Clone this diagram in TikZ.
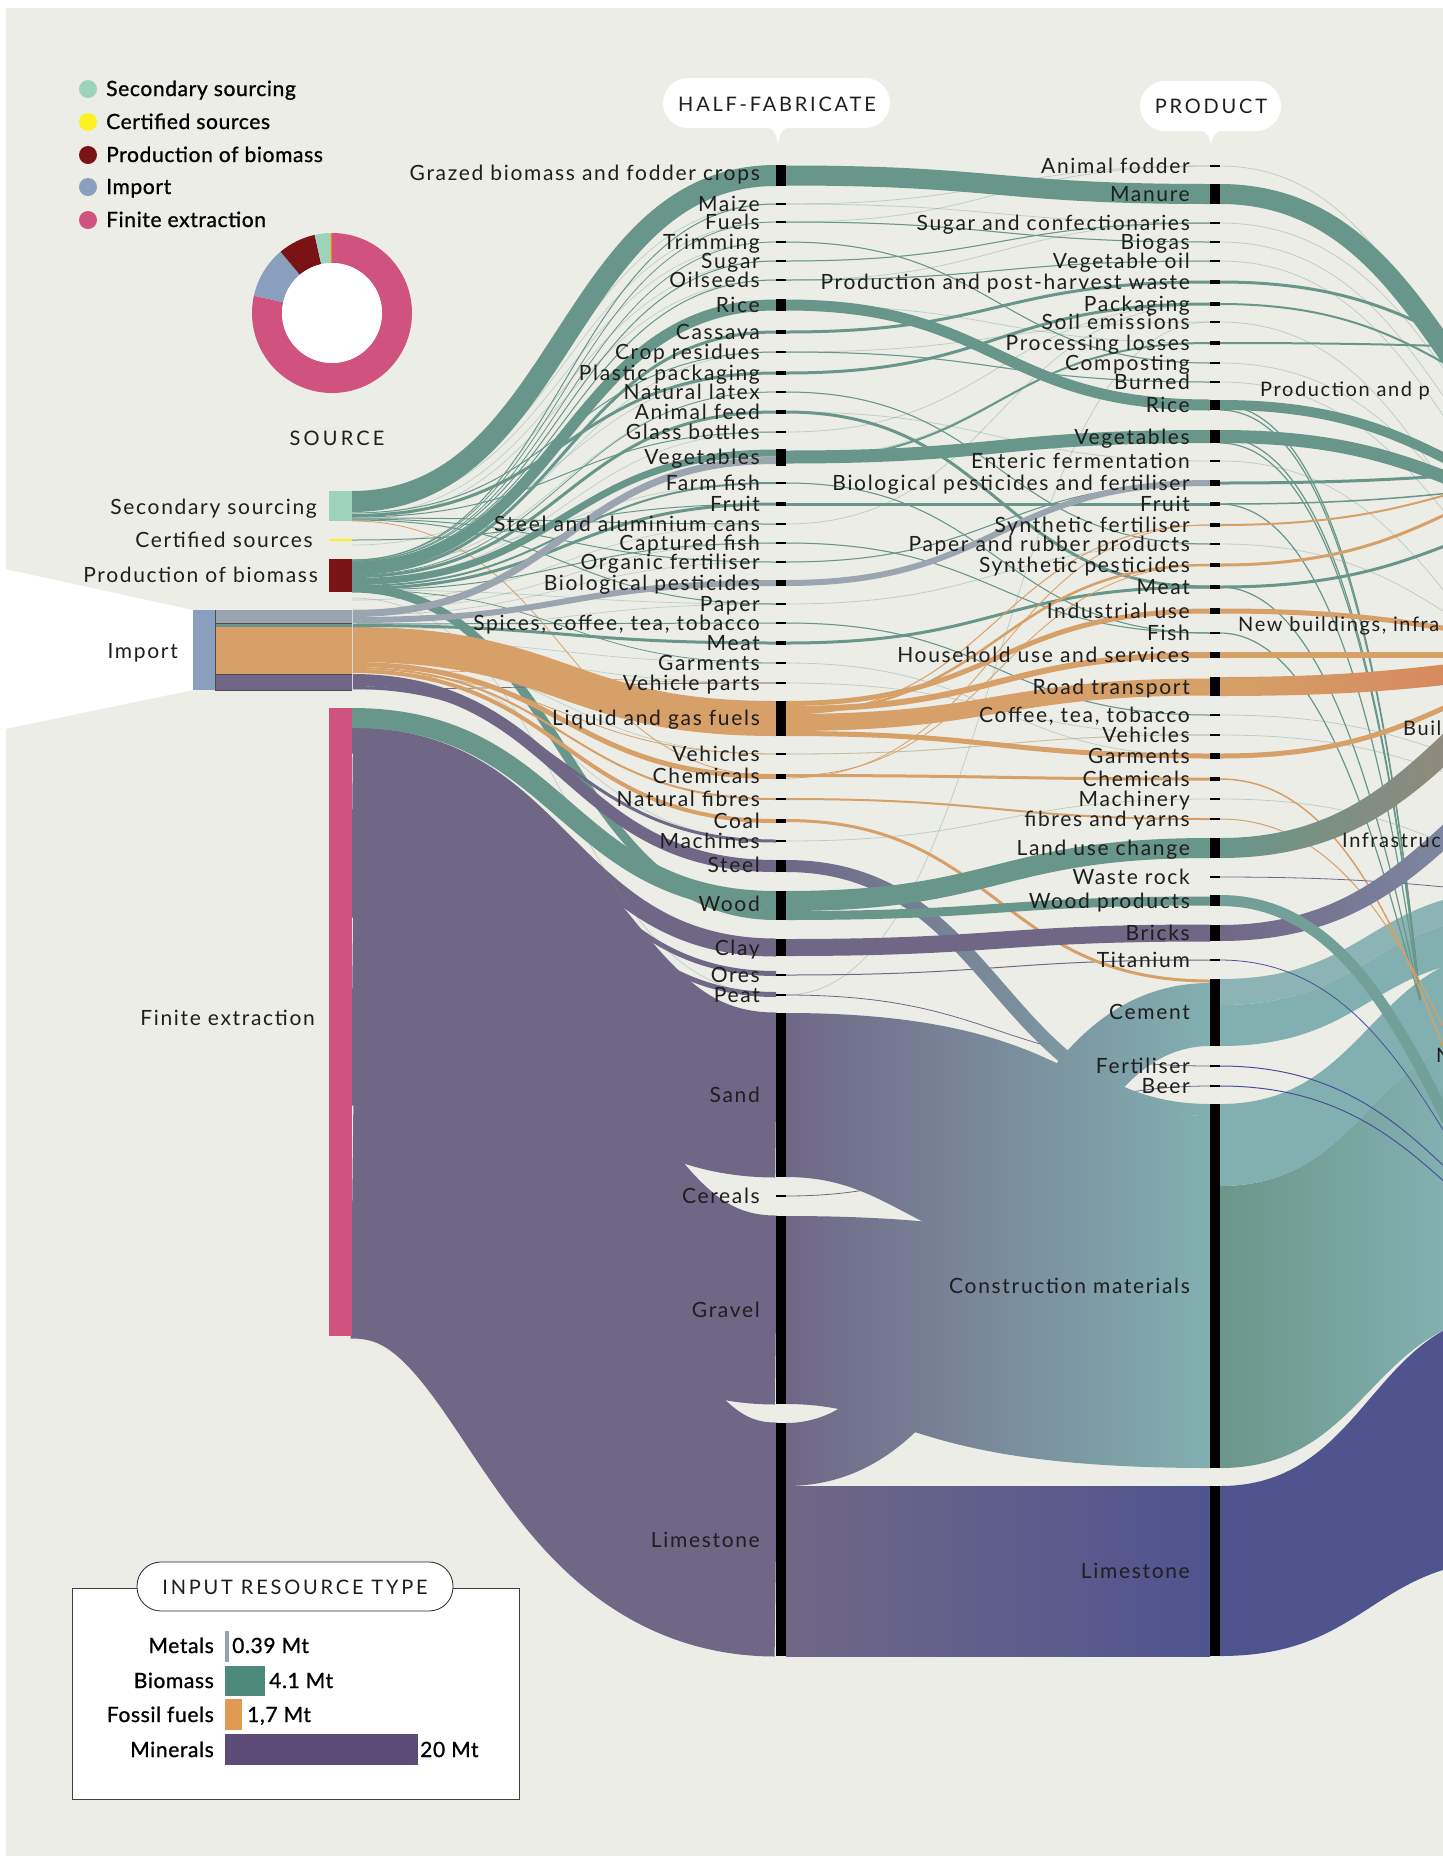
\documentclass[tikz,border=0pt]{standalone}
\usepackage{fontspec}
\setmainfont{Lato}
\newfontfamily\lbl[LetterSpace=8]{Lato}
\newfontfamily\hdr[LetterSpace=14]{Lato}
\newfontfamily\hdrS[LetterSpace=16]{Lato}
\newfontfamily\legf[LetterSpace=3,FakeBold=1]{Lato}
\definecolor{bg}{HTML}{ECEDE7}
\definecolor{gr}{HTML}{68968A}
\definecolor{grn2}{HTML}{6C968A}
\definecolor{pu}{HTML}{706787}
\definecolor{orn}{HTML}{D6A068}
\definecolor{gy}{HTML}{9BA5AF}
\definecolor{tl}{HTML}{82B0B0}
\definecolor{tl2}{HTML}{8CB4B4}
\definecolor{lb}{HTML}{4F548F}
\definecolor{pk}{HTML}{D0527E}
\definecolor{mint}{HTML}{9DD3BA}
\definecolor{dred}{HTML}{7A1315}
\definecolor{imp}{HTML}{8A9EBD}
\definecolor{yel}{HTML}{FFF01F}
\definecolor{bl}{HTML}{4A4F9C}
\definecolor{txt}{HTML}{1E1E1E}
\definecolor{cmR}{HTML}{8AB9BD}
\definecolor{rtR}{HTML}{D67053}
\definecolor{luR}{HTML}{BB7C6C}
\definecolor{brR}{HTML}{8CAABD}
\definecolor{lgMe}{HTML}{94A3B3}
\definecolor{lgBi}{HTML}{4E8A7C}
\definecolor{lgFo}{HTML}{E09A52}
\definecolor{lgMi}{HTML}{5C4B76}
% stroke link: x1, y1(centre), x2, y2(centre), width, colour
\newcommand\sstrand[6]{\draw[line width=#5,#6] (#1,#2) .. controls ({(#1+#3)/2},#2) and ({(#1+#3)/2},#4) .. (#3,#4);}
% filled link with constant perpendicular width (for gradients)
\newcommand\lk[6]{\path[#6] (#1,{#2-#5/2}) .. controls ({(#1+#3)/2+sign(#4-#2)*#5/2},{#2-#5/2}) and ({(#1+#3)/2+sign(#4-#2)*#5/2},{#4-#5/2}) .. (#3,{#4-#5/2}) -- (#3,{#4+#5/2}) .. controls ({(#1+#3)/2-sign(#4-#2)*#5/2},{#4+#5/2}) and ({(#1+#3)/2-sign(#4-#2)*#5/2},{#2+#5/2}) .. (#1,{#2+#5/2}) -- cycle;}
% filled band given top/bottom at both ends
\newcommand\sband[7]{\path[#7] (#1,#2) .. controls ({(#1+#4)/2},#2) and ({(#1+#4)/2},#5) .. (#4,#5) -- (#4,#6) .. controls ({(#1+#4)/2},#6) and ({(#1+#4)/2},#3) .. (#1,#3) -- cycle;}
\newcommand\HFbar[2]{\fill[black] (776,#1) rectangle (786,#2);}
\newcommand\HFtick[1]{\fill[black] (776,#1-1) rectangle (786,#1+1);}
\newcommand\PRbar[2]{\fill[black] (1210,#1) rectangle (1220,#2);}
\newcommand\PRtick[1]{\fill[black] (1210,#1-1) rectangle (1220,#1+1);}
\newcommand\HFlab[2]{\node[lab,anchor=base east] at (760,#1+7) {#2};}
\newcommand\PRlab[2]{\node[lab,anchor=base east] at (1190,#1+7) {#2};}
\newcommand\dseg[3]{\fill[#3] (#1:80) arc[start angle=#1,end angle=#2,radius=80] -- (#2:50) arc[start angle=#2,end angle=#1,radius=50] -- cycle;}
\begin{document}
\begin{tikzpicture}[x=1pt,y=-1pt,
  lab/.style={font=\lbl\fontsize{21}{21}\selectfont,text=txt,inner sep=0pt},
  wlab/.style={font=\lbl\fontsize{20}{20}\selectfont,text=txt,inner sep=0pt},
  leg/.style={font=\legf\fontsize{21}{21}\selectfont,text=black,inner sep=0pt},
  hd/.style={font=\hdr\fontsize{20}{20}\selectfont,text=txt,inner sep=0pt},
  fnt/.style={gr,opacity=0.35},
  fno/.style={orn,opacity=0.4}]
\useasboundingbox (0,0) rectangle (1443,1856);
\clip (0,0) rectangle (1443,1856);
\fill[white] (0,0) rectangle (1443,1856);
\fill[bg] (6,8) rectangle (1443,1856);
\fill[white] (0,568) -- (193,610) -- (193,690) -- (0,730) -- cycle;

% ---------- legend top-left
\fill[mint] (88,89) circle[radius=9];
\fill[yel] (88,122) circle[radius=9];
\fill[dred] (88,155) circle[radius=9];
\fill[imp] (88,187) circle[radius=9];
\fill[pk] (88,220) circle[radius=9];
\node[leg,anchor=base west] (l1) at (106,96) {Secondary sourcing};
\node[leg,anchor=base west] (l2) at (106,129) {Certified sources};
\node[leg,anchor=base west] (l3) at (106,162) {Production of biomass};
\node[leg,anchor=base west] (l4) at (106,194) {Import};
\node[leg,anchor=base west] (l5) at (106,227) {Finite extraction};

% ---------- donut
\begin{scope}[shift={(332,313)},y=1pt]
\dseg{90}{-192.5}{pk}
\dseg{167.5}{130}{imp}
\dseg{130}{102.5}{dred}
\dseg{102.5}{91}{mint}
\dseg{91}{90}{orange}
\fill[white] (0,0) circle[radius=50];
\end{scope}
\node[font=\hdrS\fontsize{20}{20}\selectfont,text=txt,inner sep=0pt] (src) at (337,438) {SOURCE};

% ---------- STAGE A : source -> half-fabricate
\sstrand{352}{736.5}{776}{947.5}{18}{pu}
\sstrand{352}{747}{776}{973.5}{5}{pu}
\sstrand{352}{751}{776}{994.5}{5}{pu}
\sstrand{352}{835}{776}{1095}{165}{pu}
\sstrand{352}{1011}{776}{1310}{189}{pu}
\sstrand{352}{1221.5}{776}{1539.5}{234}{pu}
\sstrand{352}{718}{776}{901}{20}{gr}
\foreach \a/\b in {500/204,505/222,508/242,515/261,520/280,566/352,570/392,580/432,600/524,610/543,615/562,630/604,640/663,650/683,655/754,660/841,545/373,560/483,590/604,598/995}
  {\sstrand{352}{\a}{776}{\b}{0.7}{fnt}}
\sstrand{352}{501.5}{776}{175.5}{21}{gr}
\sstrand{352}{513}{776}{352}{1}{gr}
\sstrand{352}{515.5}{776}{373}{3}{gr}
\sstrand{352}{517}{776}{432}{1}{gr}
\sstrand{352}{518}{776}{524}{1}{gr}
\sstrand{352}{519}{776}{562}{1}{gr}
\sstrand{352}{520}{776}{604}{1}{gr}
\sstrand{352}{521}{776}{776}{0.8}{orn}
\sstrand{352}{540}{776}{504}{1}{gr}
\sstrand{352}{560}{776}{204}{1}{gr}
\sstrand{352}{560}{776}{222}{0.8}{gr}
\sstrand{352}{561}{776}{242}{0.8}{gr}
\sstrand{352}{561}{776}{261}{1}{gr}
\sstrand{352}{562}{776}{280}{1}{gr}
\sstrand{352}{567}{776}{305}{11}{gr}
\sstrand{352}{573.5}{776}{332}{3}{gr}
\sstrand{352}{575}{776}{392}{0.8}{gr}
\sstrand{352}{576.5}{776}{412}{3}{gr}
\sstrand{352}{581.5}{776}{453}{7}{gr}
\sstrand{352}{586}{776}{483}{2}{gr}
\sstrand{352}{588.5}{776}{504}{3}{gr}
\sstrand{352}{590}{776}{543}{1}{gr}
\sstrand{352}{590}{776}{663}{0.8}{gr}
\sstrand{352}{588}{776}{915.5}{9}{gr}
\sstrand{352}{680}{776}{866}{12}{pu}
\sstrand{352}{687.5}{776}{841}{3}{pu}
\sstrand{352}{689}{776}{683}{0.7}{pu}
\sstrand{352}{644.5}{776}{718.5}{35}{orn}
\sstrand{352}{664.5}{776}{776.5}{5}{orn}
\sstrand{352}{668}{776}{799}{2}{orn}
\sstrand{352}{671}{776}{821}{4}{orn}
\sstrand{352}{672}{776}{754}{0.8}{orn}
\sstrand{352}{670}{776}{683}{0.6}{orn}
\sstrand{352}{624}{776}{623}{1}{gr}
\sstrand{352}{625.5}{776}{643}{3}{gr}
\sstrand{352}{613.5}{776}{460.5}{7}{gy}
\sstrand{352}{620}{776}{583}{6}{gy}

% ---------- source bars
\fill[mint] (329,491) rectangle (352,521);
\fill[yel] (329,539) rectangle (352,541);
\fill[dred] (329,559) rectangle (352,592);
\fill[pk] (329,708) rectangle (352,1336);
\fill[imp] (193,610) rectangle (215,690);
\fill[gy] (215,610) rectangle (352,623);
\fill[gr] (215,623) rectangle (352,627);
\fill[orn] (215,627) rectangle (352,674);
\fill[pu] (215,674) rectangle (352,690);
\draw[black!70,line width=0.6] (215,610) -- (215,690) (215,623) -- (352,623) (215,674) -- (352,674) (215,690) -- (352,690);
\draw[white!70!gray,line width=0.5] (352,610) -- (352,690);
\node[lab,anchor=base east] (s1) at (317,514) {Secondary sourcing};
\node[lab,anchor=base east] (s2) at (313,547) {Certified sources};
\node[lab,anchor=base east] (s3) at (318,582) {Production of biomass};
\node[lab,anchor=base east] (s4) at (178,658) {Import};
\node[lab,anchor=base east] (s5) at (315,1025) {Finite extraction};

% ---------- STAGE B : half-fabricate -> product
\foreach \a/\b in {204/166,204/223,222/242,242/363,261/223,280/261,332/282,352/382,352/322,373/304,392/544,432/304,458/343,483/633,524/304,543/633,562/483,604/544,623/715,663/756,683/735,754/735,841/799,995/322,305/343,412/461,222/166,280/223}
  {\sstrand{786}{\a}{1210}{\b}{0.8}{fnt}}
\sstrand{786}{242}{1210}{363}{1}{gr}
\sstrand{786}{222}{1210}{242}{1}{gr}
\sstrand{786}{261}{1210}{223}{1}{gr}
\sstrand{786}{280}{1210}{261}{1}{gr}
\sstrand{786}{332}{1210}{282}{3}{gr}
\sstrand{786}{352}{1210}{382}{1}{gr}
\sstrand{786}{373}{1210}{304}{3}{gr}
\sstrand{786}{392}{1210}{544}{1}{gr}
\sstrand{786}{412}{1210}{587}{3}{gr}
\sstrand{786}{460}{1210}{343}{2}{gr}
\sstrand{786}{483}{1210}{633}{1}{gr}
\sstrand{786}{543}{1210}{633}{1}{gr}
\sstrand{786}{562}{1210}{483}{1}{gr}
\sstrand{786}{623}{1210}{715}{1}{gr}
\sstrand{786}{643}{1210}{587}{3}{gr}
\sstrand{786}{504}{1210}{504}{3}{gr}
\sstrand{786}{754}{1210}{735}{0.8}{fno}
\sstrand{786}{799}{1210}{819}{2}{orn}
\sstrand{786}{776}{1210}{565}{0.8}{orn}
\sstrand{786}{778}{1210}{525}{0.8}{orn}
\sstrand{786}{714}{1210}{525}{1}{orn}
\sstrand{786}{975}{1210}{960}{1}{pu}
\sstrand{786}{995}{1210}{1066}{0.8}{pu}
\sstrand{786}{1196}{1210}{1086}{0.8}{pu}
\sstrand{786}{175.5}{1210}{194}{20}{gr}
\sstrand{786}{305}{1210}{405}{11}{gr}
\sstrand{786}{457}{1210}{436.5}{13}{gr}
\sstrand{786}{583}{1210}{483}{6}{gy}
\lk{786}{1095}{1210}{1198}{164}{left color=pu,right color=tl}
\lk{786}{1310}{1210}{1374}{188}{left color=pu,right color=tl}
\lk{786}{866}{1210}{1110}{12}{left color=pu,right color=tl}
\lk{786}{1571}{1210}{1571}{170}{left color=pu,right color=lb}
\lk{786}{1454.5}{1210}{1014.5}{63}{left color=pu,right color=tl}
\sstrand{786}{703.5}{1210}{611}{5}{orn}
\sstrand{786}{709}{1210}{655}{6}{orn}
\sstrand{786}{713}{1210}{565}{2.5}{orn}
\sstrand{786}{722.5}{1210}{687}{17}{orn}
\sstrand{786}{733.5}{1210}{756}{5}{orn}
\sstrand{786}{775.5}{1210}{779}{3}{orn}
\sstrand{786}{820.5}{1210}{981}{3}{orn}
\sstrand{786}{901}{1210}{848}{20}{gr}
\sstrand{786}{915.5}{1210}{901}{9}{gr}
\sstrand{786}{947.5}{1210}{933}{17}{pu}

% ---------- STAGE C : product -> right
\sband{1220}{1486}{1656}{1520}{1311}{1559}{fill=lb}
\sband{1220}{1186}{1468}{1520}{1031}{1313}{left color=grn2,right color=cmR}
\sband{1220}{1104}{1186}{1520}{949}{1031}{fill=tl}
\sband{1220}{1005}{1046}{1520}{916}{957}{fill=tl}
\sband{1220}{979}{1005}{1520}{890}{916}{fill=tl2}
\foreach \a/\b in {166/600,223/560,242/600,261/620,322/700,363/640,382/680,461/760,544/700,715/800,735/820,799/900}
  {\sstrand{1220}{\a}{1700}{\b}{0.8}{fnt}}
\foreach \a in {405,410,437,443,504,587,633}
  {\draw[gr,line width=1.2] (1220,\a) .. controls (1330,\a) and (1385,{\a+250}) .. (1420,1000);}
\sstrand{1220}{194}{1700}{549}{20}{gr}
\sstrand{1220}{405}{1700}{527}{10}{gr}
\sstrand{1220}{436.5}{1700}{529.5}{13}{gr}
\sstrand{1220}{282}{1700}{404}{3}{gr}
\sstrand{1220}{304}{1700}{440}{2}{gr}
\sstrand{1220}{343}{1700}{350}{2}{gr}
\sstrand{1220}{483}{1700}{467}{3}{gr}
\sstrand{1220}{504}{1700}{480}{1.5}{gr}
\sstrand{1220}{525}{1700}{457}{2}{orn}
\sstrand{1220}{565}{1700}{450}{3}{orn}
\sstrand{1220}{587}{1700}{493}{3}{gr}
\sstrand{1220}{611}{1700}{651}{5}{orn}
\sstrand{1220}{655}{1700}{655}{6}{orn}
\sstrand{1220}{756}{1700}{645}{5}{orn}
\sstrand{1220}{779}{1700}{1400}{1.5}{orn}
\sstrand{1220}{819}{1700}{1300}{1}{orn}
\sstrand{1220}{877}{1700}{900}{0.8}{pu}
\sstrand{1220}{960}{1700}{1355}{0.8}{bl}
\sstrand{1220}{1066}{1700}{1297}{1}{bl}
\sstrand{1220}{1086}{1700}{1306}{1}{bl}
\lk{1220}{686.5}{1700}{659.5}{19}{left color=orn,right color=rtR}
\lk{1220}{848}{1700}{622}{20}{left color=gr,right color=luR}
\lk{1220}{933}{1700}{712}{16}{left color=pu,right color=brR}
\sstrand{1220}{900.5}{1700}{1393}{11}{gr!60!tl}

% ---------- markers half-fabricate
\HFbar{165}{186}\HFtick{204}\HFtick{222}\HFtick{242}\HFtick{261}\HFtick{280}
\HFbar{299}{311}\HFbar{330}{334}\HFtick{352}\HFbar{371}{375}\HFtick{392}
\HFbar{410}{414}\HFtick{432}\HFbar{449}{466}\HFtick{483}\HFbar{502}{506}
\HFtick{524}\HFtick{543}\HFtick{562}\HFbar{580}{586}\HFtick{604}\HFtick{623}
\HFbar{641}{645}\HFtick{663}\HFtick{683}\HFbar{701}{736}\HFtick{754}
\HFbar{774}{779}\HFbar{798}{800}\HFbar{819}{823}\HFtick{841}\HFbar{860}{872}
\HFbar{891}{920}\HFbar{939}{956}\HFtick{975}\HFtick{995}\HFbar{1013}{1177}
\HFtick{1196}\HFbar{1216}{1404}\HFbar{1423}{1656}
% markers product
\PRtick{166}\PRbar{184}{204}\PRtick{223}\PRtick{242}\PRtick{261}\PRbar{280}{284}
\PRbar{302}{306}\PRtick{322}\PRbar{341}{345}\PRtick{363}\PRtick{382}\PRbar{400}{410}
\PRbar{430}{443}\PRtick{461}\PRbar{480}{486}\PRbar{502}{506}\PRbar{523}{527}
\PRtick{544}\PRbar{563}{567}\PRbar{585}{589}\PRbar{608}{614}\PRtick{633}
\PRbar{652}{658}\PRbar{677}{696}\PRtick{715}\PRtick{735}\PRbar{753}{759}
\PRbar{777}{781}\PRtick{799}\PRtick{819}\PRbar{838}{858}\PRtick{877}
\PRbar{895}{906}\PRbar{925}{941}\PRtick{960}\PRbar{979}{1046}\PRtick{1066}
\PRtick{1086}\PRbar{1104}{1468}\PRbar{1486}{1656}

% ---------- half-fabricate labels
\HFlab{173}{Grazed biomass and fodder crops}
\HFlab{204}{Maize}\HFlab{222}{Fuels}\HFlab{242}{Trimming}\HFlab{261}{Sugar}
\HFlab{280}{Oilseeds}\HFlab{305}{Rice}\HFlab{332}{Cassava}\HFlab{352}{Crop residues}
\HFlab{373}{Plastic packaging}\HFlab{392}{Natural latex}\HFlab{412}{Animal feed}
\HFlab{432}{Glass bottles}\HFlab{457}{Vegetables}\HFlab{483}{Farm fish}
\HFlab{504}{Fruit}\HFlab{524}{Steel and aluminium cans}\HFlab{543}{Captured fish}
\HFlab{562}{Organic fertiliser}\HFlab{583}{Biological pesticides}\HFlab{604}{Paper}
\HFlab{623}{Spices, coffee, tea, tobacco}\HFlab{643}{Meat}\HFlab{663}{Garments}
\HFlab{683}{Vehicle parts}\HFlab{718}{Liquid and gas fuels}\HFlab{754}{Vehicles}
\HFlab{776}{Chemicals}\HFlab{799}{Natural fibres}\HFlab{821}{Coal}\HFlab{841}{Machines}
\HFlab{865}{Steel}\HFlab{904}{Wood}\HFlab{948}{Clay}\HFlab{975}{Ores}\HFlab{995}{Peat}
\HFlab{1095}{Sand}\HFlab{1196}{Cereals}\HFlab{1310}{Gravel}\HFlab{1540}{Limestone}
% ---------- product labels
\PRlab{166}{Animal fodder}\PRlab{194}{Manure}\PRlab{223}{Sugar and confectionaries}
\PRlab{242}{Biogas}\PRlab{261}{Vegetable oil}\PRlab{282}{Production and post-harvest waste}
\PRlab{304}{Packaging}\PRlab{322}{Soil emissions}\PRlab{343}{Processing losses}
\PRlab{363}{Composting}\PRlab{382}{Burned}\PRlab{405}{Rice}\PRlab{437}{Vegetables}
\PRlab{461}{Enteric fermentation}\PRlab{483}{Biological pesticides and fertiliser}
\PRlab{504}{Fruit}\PRlab{525}{Synthetic fertiliser}\PRlab{544}{Paper and rubber products}
\PRlab{565}{Synthetic pesticides}\PRlab{587}{Meat}\PRlab{611}{Industrial use}
\PRlab{633}{Fish}\PRlab{655}{Household use and services}\PRlab{687}{Road transport}
\PRlab{715}{Coffee, tea, tobacco}\PRlab{735}{Vehicles}\PRlab{756}{Garments}
\PRlab{779}{Chemicals}\PRlab{799}{Machinery}\PRlab{819}{fibres and yarns}
\PRlab{848}{Land use change}\PRlab{877}{Waste rock}\PRlab{901}{Wood products}
\PRlab{933}{Bricks}\PRlab{960}{Titanium}\PRlab{1012}{Cement}\PRlab{1066}{Fertiliser}
\PRlab{1086}{Beer}\PRlab{1286}{Construction materials}\PRlab{1571}{Limestone}
% ---------- third column (cut off at the edge, as in the reference)
\node[wlab,anchor=base west] (t1) at (1260,396) {Production and p};
\node[wlab,anchor=base west] (t2) at (1238,631) {New buildings, infra};
\node[wlab,anchor=base west] (t3) at (1403,735) {Buil};
\node[wlab,anchor=base west] (t4) at (1342,847) {Infrastruc};
\node[wlab,anchor=base west] (t5) at (1436,1062) {N};

% ---------- header bubbles
\fill[white,rounded corners=25] (663,78) rectangle (890,128);
\fill[white] (766,127) .. controls (774,128) and (777,134) .. (778,146) .. controls (779,134) and (782,128) .. (790,127) -- cycle;
\node[hd] (hf) at (777,104) {HALF-FABRICATE};
\fill[white,rounded corners=25] (1140,81) rectangle (1281,131);
\fill[white] (1199,130) .. controls (1207,131) and (1210,137) .. (1211,146) .. controls (1212,137) and (1215,131) .. (1223,130) -- cycle;
\node[hd] (pr) at (1211,106) {PRODUCT};

% ---------- bottom legend
\draw[fill=white,draw=black!75,line width=0.8] (72,1588) rectangle (519,1799);
\draw[fill=white,draw=black!85,line width=0.8,rounded corners=24] (137,1562) rectangle (453,1611);
\node[hd] (irt) at (295,1587) {INPUT RESOURCE TYPE};
\fill[lgMe] (225,1631) rectangle (229,1662);
\fill[lgBi] (225,1666) rectangle (265,1696);
\fill[lgFo] (225,1699) rectangle (242,1730);
\fill[lgMi] (225,1734) rectangle (418,1765);
\node[leg,anchor=base east] (m1) at (214,1653) {Metals};
\node[leg,anchor=base east] (m2) at (214,1688) {Biomass};
\node[leg,anchor=base east] (m3) at (214,1722) {Fossil fuels};
\node[leg,anchor=base east] (m4) at (214,1757) {Minerals};
\node[leg,anchor=base west] (v1) at (232,1653) {0.39 Mt};
\node[leg,anchor=base west] (v2) at (269,1688) {4.1 Mt};
\node[leg,anchor=base west] (v3) at (247,1722) {1,7 Mt};
\node[leg,anchor=base west] (v4) at (420,1757) {20 Mt};
\end{tikzpicture}
\end{document}
